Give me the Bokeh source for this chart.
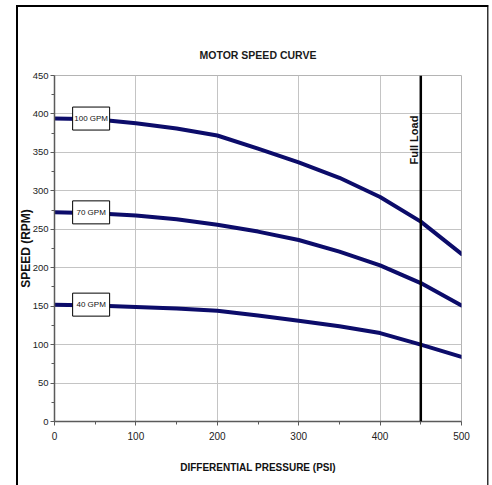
import math
from bokeh.plotting import figure
from bokeh.models import Span, Label, FixedTicker, Range1d
from bokeh.core.properties import value
from bokeh.embed import file_html
from bokeh.resources import INLINE

# ---- data ----
pressure = [0, 50, 100, 150, 200, 250, 300, 350, 400, 450, 500]
speed_100gpm = [394, 393, 388, 381, 372, 355, 337, 317, 292, 260, 218]
speed_70gpm = [272, 271, 268, 263, 256, 247, 236, 221, 203, 180, 151]
speed_40gpm = [152, 151, 149, 147, 144, 138, 131, 124, 115, 100, 84]
series_names = ["100 GPM", "70 GPM", "40 GPM"]
full_load_psi = 450
x_ticks = [0, 100, 200, 300, 400, 500]
y_ticks = [0, 50, 100, 150, 200, 250, 300, 350, 400, 450]

FONT = "Liberation Sans"
LINE_COLOR = "#0c0c6a"

p = figure(width=492, height=485, output_backend="svg", toolbar_location=None,
           x_range=Range1d(0, 500), y_range=Range1d(0, 450),
           min_border_left=54, min_border_right=31, min_border_top=75, min_border_bottom=64)
# outer picture frame (top/left black, right dark grey) drawn as inset shadows
p.styles = {"box-shadow": ("inset 16px 5px 0 0 #ffffff, inset -3.5px 0 0 0 #ffffff, "
                           "inset 18px 7px 0 0 #000000, inset -5px 0 0 0 #333333")}
p.background_fill_color = "white"
p.border_fill_alpha = 0
p.outline_line_color = "#b4b4b4"
p.outline_line_width = 1

# title
p.title.text = "MOTOR SPEED CURVE"
p.title.align = "center"
p.title.offset = -4
p.title.text_font = FONT
p.title.text_font_size = "10.5px"
p.title.text_font_style = "bold"
p.title.text_color = "#1a1a1a"
p.title.standoff = 30

# axes
p.xaxis.ticker = FixedTicker(ticks=x_ticks, minor_ticks=[50, 150, 250, 350, 450])
p.yaxis.ticker = FixedTicker(ticks=y_ticks, minor_ticks=[25, 75, 125, 175, 225, 275, 325, 375, 425])
for ax in (p.xaxis[0], p.yaxis[0]):
    ax.axis_line_color = "#5a5a5a"
    ax.axis_line_width = 1.5
    ax.major_tick_line_color = "#5a5a5a"
    ax.minor_tick_line_color = "#5a5a5a"
    ax.major_tick_in = 0
    ax.major_tick_out = 4
    ax.minor_tick_in = 0
    ax.minor_tick_out = 3
    ax.major_label_text_font = FONT
    ax.major_label_text_font_size = "10px"
    ax.major_label_text_color = "#222222"
    ax.axis_label_text_font = FONT
    ax.axis_label_text_font_style = "bold"
    ax.axis_label_text_color = "#111111"
p.xaxis.major_label_standoff = 6
p.yaxis.major_label_standoff = 2
p.yaxis.major_label_text_font_size = "9.5px"
p.xaxis.axis_label = "DIFFERENTIAL PRESSURE (PSI)"
p.xaxis.axis_label_text_font_size = "10px"
p.xaxis.axis_label_standoff = 19
p.yaxis.axis_label = "SPEED (RPM)"
p.yaxis.axis_label_text_font_size = "12px"
p.yaxis.axis_label_standoff = -3

# grid
p.xgrid.ticker = FixedTicker(ticks=x_ticks)
p.ygrid.ticker = FixedTicker(ticks=y_ticks)
p.grid.grid_line_color = "#c4c4c4"
p.grid.grid_line_width = 1

# full load line
p.add_layout(Span(location=full_load_psi, dimension="height", line_color="black", line_width=2.5))

# curves
all_series = [speed_100gpm, speed_70gpm, speed_40gpm]
for s in all_series:
    p.line(pressure, s, line_color=LINE_COLOR, line_width=4, line_join="round", line_cap="round")

# labels in boxes
label_x = [45, 45, 45]
label_y = [s[0] for s in all_series]
p.rect(x=label_x, y=label_y, width=37, height=23, width_units="screen", height_units="screen",
       fill_color="white", line_color="black", line_width=1)
p.text(x=label_x, y=label_y, text=series_names, text_align="center", text_baseline="middle",
       text_font=value(FONT), text_font_size="8px", text_color="#111111")

# Full Load label
p.add_layout(Label(x=441.5, y=366, text="Full Load", angle=math.pi / 2,
                   text_align="center", text_baseline="middle",
                   text_font=FONT, text_font_size="11px",
                   text_font_style="bold", text_color="#111111"))

open("out.html", "w").write(file_html(p, INLINE))
